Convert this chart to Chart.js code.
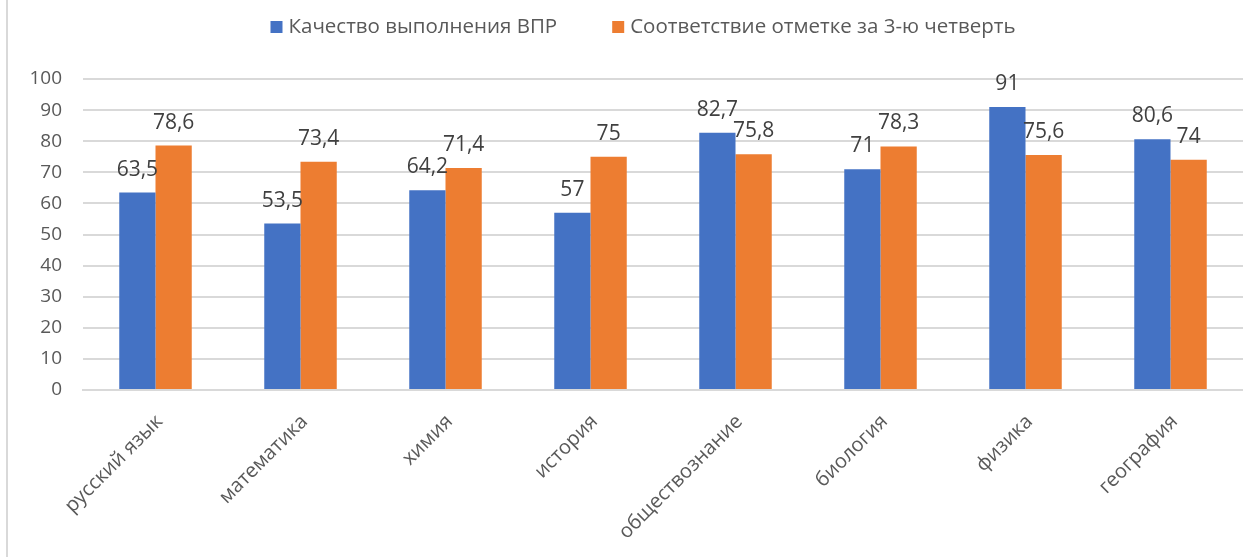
<!DOCTYPE html>
<html>
<head>
<meta charset="utf-8">
<script src="https://cdn.jsdelivr.net/npm/chart.js@4"></script>
<style>
  html, body { margin: 0; padding: 0; background: #fff; }
  #wrap { width: 1243px; height: 557px; position: relative; }
</style>
</head>
<body>
<div id="wrap"><canvas id="chart" width="1243" height="557"></canvas></div>
<script>
// данные диаграммы
const subjects = ["русский язык", "математика", "химия", "история", "обществознание", "биология", "физика", "география"];
const seriesNames = ["Качество выполнения ВПР", "Соответствие отметке за 3-ю четверть"];
const quality = [63.5, 53.5, 64.2, 57, 82.7, 71, 91, 80.6];
const match3q = [78.6, 73.4, 71.4, 75, 75.8, 78.3, 75.6, 74];
const yTicks = [0, 10, 20, 30, 40, 50, 60, 70, 80, 90, 100];

const FONT = "'Open Sans', sans-serif";
const TEXT = "#595959";
const GRID = "#d9d9d9";
const COLORS = ["#4472C4", "#ED7D31"];

// подписи значений над столбцами
const valueLabels = {
  id: "valueLabels",
  afterDatasetsDraw(chart) {
    const ctx = chart.ctx;
    ctx.save();
    ctx.font = "21px " + FONT;
    ctx.fillStyle = "#404040";
    ctx.textAlign = "center";
    ctx.textBaseline = "alphabetic";
    chart.data.datasets.forEach((ds, i) => {
      chart.getDatasetMeta(i).data.forEach((bar, j) => {
        const txt = String(ds.data[j]).replace(".", ",");
        ctx.fillText(txt, bar.x, bar.y - 17);
      });
    });
    ctx.restore();
  }
};

// легенда сверху, как в Excel
const topLegend = {
  id: "topLegend",
  afterDraw(chart) {
    const ctx = chart.ctx;
    ctx.save();
    ctx.font = "20.5px " + FONT;
    ctx.textBaseline = "middle";
    const box = 12, gapIn = 6, gapOut = 55;
    const widths = chart.data.datasets.map(ds => box + gapIn + ctx.measureText(ds.label).width);
    const total = widths.reduce((a, b) => a + b, 0) + gapOut * (widths.length - 1);
    let x = 643 - total / 2;
    const y = 27;
    chart.data.datasets.forEach((ds, i) => {
      ctx.fillStyle = ds.backgroundColor;
      ctx.fillRect(x, y - box / 2, box, box);
      ctx.fillStyle = TEXT;
      ctx.textAlign = "left";
      ctx.fillText(ds.label, x + box + gapIn, y);
      x += widths[i] + gapOut;
    });
    ctx.restore();
  }
};

// серая линия рамки слева
const frame = {
  id: "frame",
  beforeDraw(chart) {
    const ctx = chart.ctx;
    ctx.save();
    ctx.strokeStyle = GRID;
    ctx.lineWidth = 2;
    ctx.beginPath();
    ctx.moveTo(7, 0);
    ctx.lineTo(7, chart.height);
    ctx.stroke();
    ctx.restore();
  }
};

new Chart(document.getElementById("chart"), {
  type: "bar",
  data: {
    labels: subjects,
    datasets: [
      { label: seriesNames[0], data: quality, backgroundColor: COLORS[0] },
      { label: seriesNames[1], data: match3q, backgroundColor: COLORS[1] }
    ]
  },
  options: {
    responsive: false,
    animation: false,
    layout: { padding: { left: 0, right: 0, top: 79, bottom: 0 } },
    datasets: { bar: { categoryPercentage: 0.5, barPercentage: 1 } },
    plugins: {
      legend: { display: false },
      tooltip: { enabled: false }
    },
    scales: {
      x: {
        grid: { display: false, drawTicks: false },
        border: { color: GRID, width: 2 },
        ticks: {
          font: { family: FONT, size: 20 },
          color: TEXT,
          maxRotation: 45,
          minRotation: 45,
          padding: 20,
          labelOffset: 4
        },
        afterFit(scale) { scale.height = 167; }
      },
      y: {
        min: 0,
        max: 100,
        afterBuildTicks(scale) { scale.ticks = yTicks.map(v => ({ value: v })); },
        grid: { color: GRID, lineWidth: 2, drawTicks: false },
        border: { display: false },
        ticks: {
          font: { family: FONT, size: 19 },
          color: TEXT,
          padding: 21
        },
        afterFit(scale) { scale.width = 83; }
      }
    }
  },
  plugins: [valueLabels, topLegend, frame]
});
</script>
</body>
</html>
